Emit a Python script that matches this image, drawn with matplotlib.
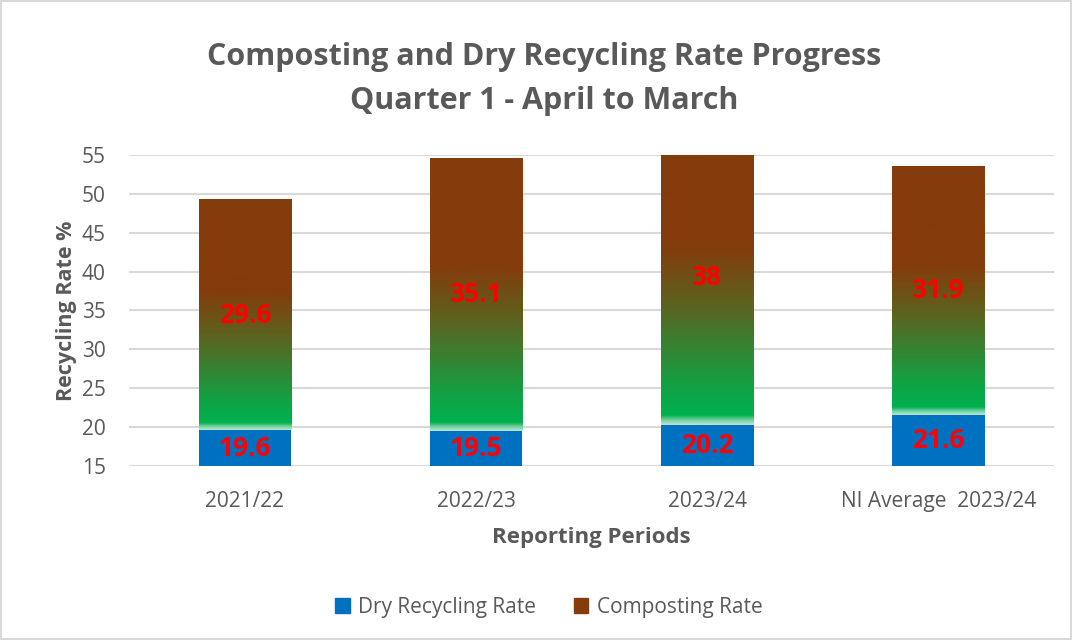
import matplotlib.pyplot as plt
import numpy as np
from matplotlib.colors import LinearSegmentedColormap, Normalize
from matplotlib.patches import Patch

periods = ["2021/22", "2022/23", "2023/24", "NI Average  2023/24"]
dry_rate = [19.6, 19.5, 20.2, 21.6]
compost_rate = [29.6, 35.1, 38, 31.9]
yticks = [15, 20, 25, 30, 35, 40, 45, 50, 55]

grey = "#595959"
blue = "#0070C0"
brown = "#843C0C"
ymin, ymax = 15, 55

plt.rcParams['font.family'] = ['Open Sans', 'DejaVu Sans']

fig = plt.figure(figsize=(10.72, 6.4), dpi=100)
fig.patch.set_edgecolor("#d9d9d9")
fig.patch.set_linewidth(1.5)
ax = fig.add_axes([0.1205, 0.272, 0.863, 0.486])

x = np.arange(len(periods))
w = 0.40

# gradient for composting segment (bottom -> top)
cmap = LinearSegmentedColormap.from_list("compost", [
    (0.0, "#b5e3cc"), (0.015, "#6fcf9c"), (0.03, "#00B050"),
    (0.12, "#0fa445"), (0.40, "#5b6420"), (0.60, brown), (1.0, brown)])

ax.bar(x, dry_rate, width=w, color=blue, zorder=2)
for xi, d, c in zip(x, dry_rate, compost_rate):
    top = min(d + c, ymax)
    grad = np.linspace(0, (top - d) / c, 512).reshape(-1, 1)
    ax.imshow(grad, cmap=cmap, norm=Normalize(0, 1), origin="lower",
              aspect="auto", extent=[xi - w / 2, xi + w / 2, d, top], zorder=2)
    # labels: dry at centre of visible part, compost at centre of segment
    ax.text(xi, (ymin + d) / 2, f"{d:g}", color="red", fontsize=19,
            fontweight="bold", ha="center", va="center", zorder=3)
    ax.text(xi, d + c / 2, f"{c:g}", color="red", fontsize=19,
            fontweight="bold", ha="center", va="center", zorder=3)

ax.set_xlim(-0.5, len(periods) - 0.5)
ax.set_ylim(ymin, ymax)
ax.set_yticks(yticks)
ax.set_xticks(x)
ax.set_xticklabels(periods)
ax.grid(axis="y", color="#d9d9d9", linewidth=1.5, zorder=0)
ax.set_axisbelow(True)
for s in ax.spines.values():
    s.set_visible(False)
ax.tick_params(length=0, labelsize=15, colors=grey)
ax.tick_params(axis="x", pad=18)
ax.tick_params(axis="y", pad=17)

ax.set_ylabel("Recycling Rate %", fontsize=15.5, fontweight="bold", color=grey, labelpad=3)
ax.set_xlabel("Reporting Periods", fontsize=16, fontweight="bold", color=grey, labelpad=11)

fig.text(0.508, 0.876, "Composting and Dry Recycling Rate Progress\nQuarter 1 - April to March",
         ha="center", va="center", fontsize=22, fontweight="bold", color=grey,
         linespacing=1.62)

handles = [Patch(color=blue), Patch(color=brown)]
fig.legend(handles, ["Dry Recycling Rate", "Composting Rate"], loc="center",
           bbox_to_anchor=(0.512, 0.051), ncol=2, frameon=False, fontsize=15,
           labelcolor=grey, handlelength=0.7, handleheight=0.7,
           handletextpad=0.4, columnspacing=1.8)

fig.savefig("out.png", dpi=100)
